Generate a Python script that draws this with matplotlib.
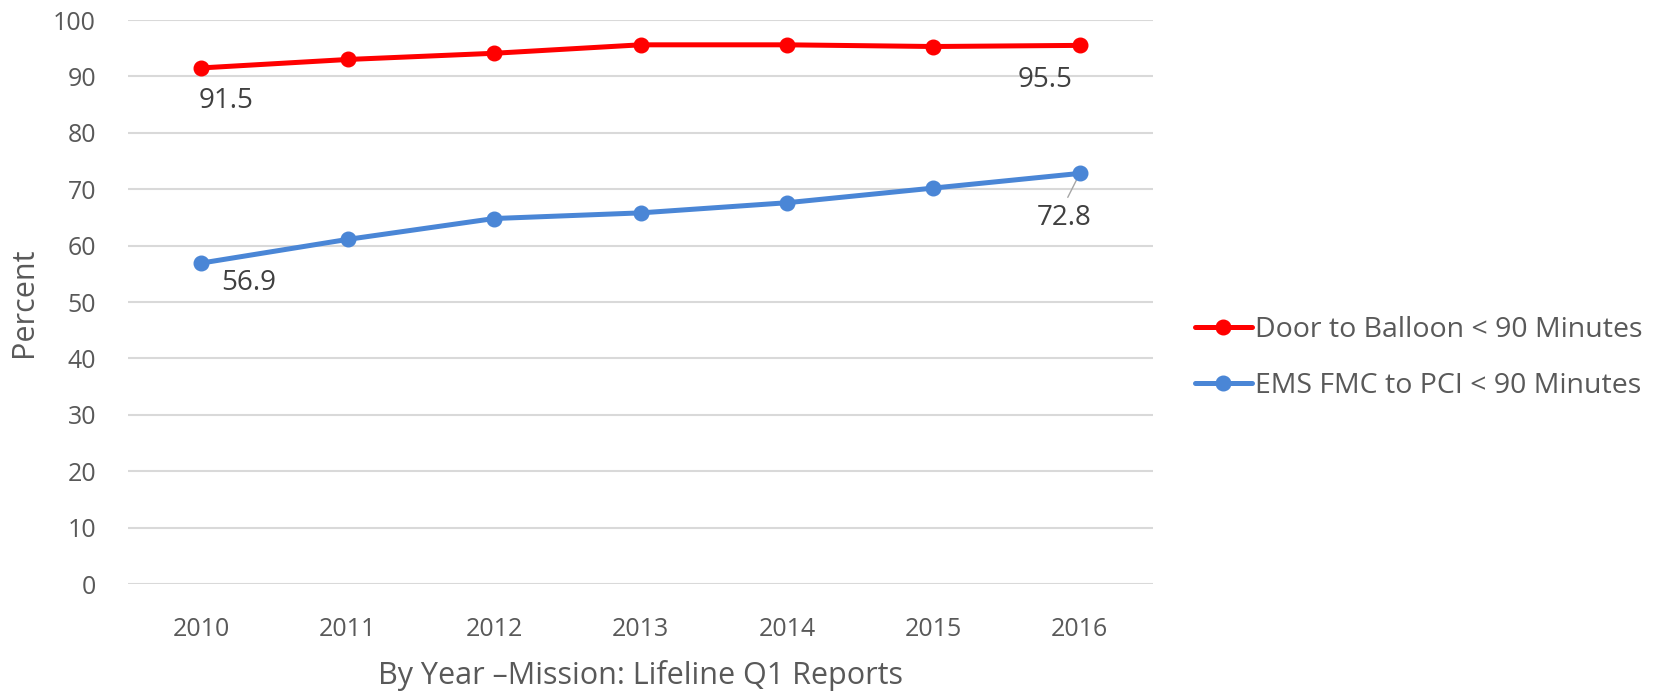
import matplotlib
matplotlib.use("Agg")
import matplotlib.pyplot as plt

years = ["2010", "2011", "2012", "2013", "2014", "2015", "2016"]
door_to_balloon = [91.5, 93.0, 94.1, 95.6, 95.6, 95.3, 95.5]
ems_fmc_to_pci = [56.9, 61.1, 64.8, 65.8, 67.6, 70.2, 72.8]
series_names = ["Door to Balloon < 90 Minutes", "EMS FMC to PCI < 90 Minutes"]
y_ticks = [0, 10, 20, 30, 40, 50, 60, 70, 80, 90, 100]

plt.rcParams['font.family'] = ['Open Sans', 'DejaVu Sans']
text_color = '#595959'
red = '#FF0000'
blue = '#4A86D6'

fig = plt.figure(figsize=(16.61, 6.94), dpi=100)
ax = fig.add_axes([128/1661, 1-584/694, (1153-128)/1661, (584-20)/694])

x = list(range(len(years)))
l1, = ax.plot(x, door_to_balloon, color=red, lw=3.6, marker='o', ms=10.5,
              solid_capstyle='round', label=series_names[0], zorder=3)
l2, = ax.plot(x, ems_fmc_to_pci, color=blue, lw=3.6, marker='o', ms=10.5,
              solid_capstyle='round', label=series_names[1], zorder=3)

ax.set_xlim(-0.5, len(years) - 0.5)
ax.set_ylim(0, 100)
ax.set_yticks(y_ticks)
ax.set_xticks(x)
ax.set_xticklabels(years)
ax.grid(axis='y', color='#d9d9d9', lw=1.5)
ax.set_axisbelow(True)
for s in ax.spines.values():
    s.set_visible(False)
ax.tick_params(axis='both', length=0, labelsize=18, colors=text_color)
ax.tick_params(axis='y', pad=23)
ax.tick_params(axis='x', pad=24)

ax.set_xlabel("By Year \u2013Mission: Lifeline Q1 Reports", fontsize=22, color=text_color, labelpad=13)
ax.set_ylabel("Percent", fontsize=22, color=text_color, labelpad=10)

lab_kw = dict(fontsize=20, color='#404040', ha='center', va='center', textcoords='offset points')
ax.annotate(f"{door_to_balloon[0]:.1f}", (0, door_to_balloon[0]), xytext=(18, -24), **lab_kw)
ax.annotate(f"{ems_fmc_to_pci[0]:.1f}", (0, ems_fmc_to_pci[0]), xytext=(34, -14), **lab_kw)
ax.annotate(f"{door_to_balloon[-1]:.1f}", (6, door_to_balloon[-1]), xytext=(-25, -25), **lab_kw)
ax.annotate(f"{ems_fmc_to_pci[-1]:.1f}", (6, ems_fmc_to_pci[-1]), xytext=(-11, -32),
            arrowprops=dict(arrowstyle='-', color='#a6a6a6', lw=1, shrinkA=3, shrinkB=0,
                            relpos=(0.5, 1.0)), zorder=2, **lab_kw)

fig.legend(handles=[l1, l2], loc='center left', bbox_to_anchor=(1195/1661, 1-358/694),
           frameon=False, fontsize=20.5, labelcolor=text_color, handlelength=2.0,
           handletextpad=0.1, labelspacing=1.0, borderpad=0, borderaxespad=0)

fig.savefig("out.png", dpi=100)
